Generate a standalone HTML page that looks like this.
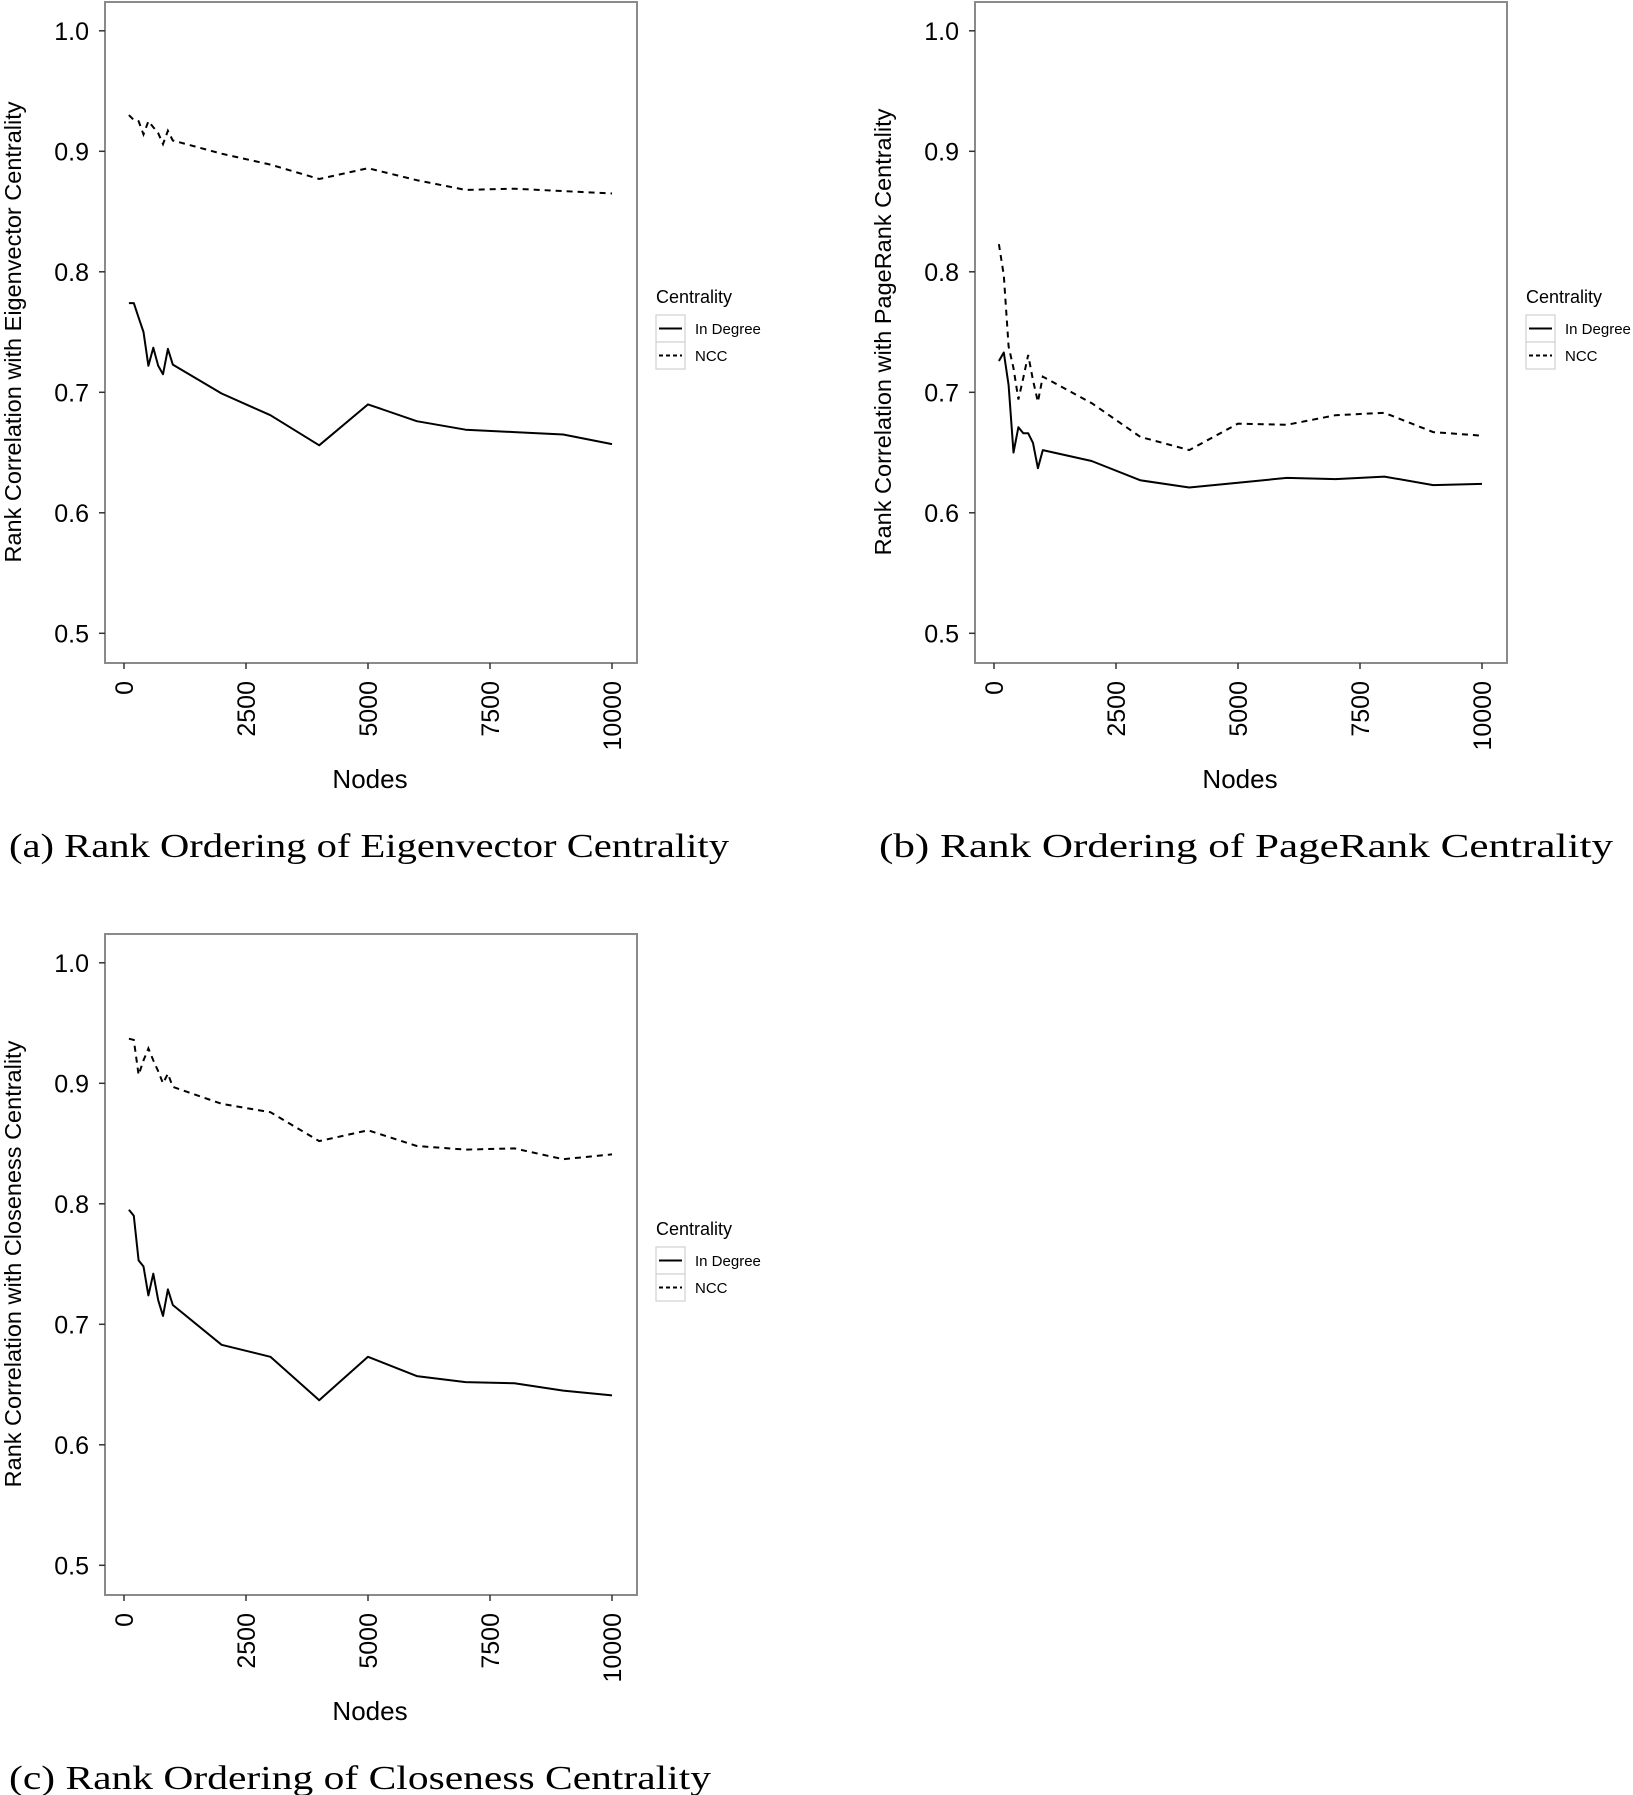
<!DOCTYPE html>
<html><head><meta charset="utf-8"><style>
html,body{margin:0;padding:0;background:#fff;}
svg{display:block;}
text{font-family:"Liberation Sans",sans-serif;fill:#000;}
.cap{font-family:"Liberation Serif",serif;}
</style></head><body>
<svg id="fig" width="1633" height="1795" viewBox="0 0 1633 1795" xmlns="http://www.w3.org/2000/svg"></svg>
<script>
const nodes = [100,200,300,400,500,600,700,800,900,1000,2000,3000,4000,5000,6000,7000,8000,9000,10000];
const xTicks = [0,2500,5000,7500,10000];
const yTicks = [0.5,0.6,0.7,0.8,0.9,1.0];
const yTickLabels = ["0.5","0.6","0.7","0.8","0.9","1.0"];
const eigInDegree = [0.774,0.774,0.762,0.750,0.722,0.737,0.722,0.715,0.736,0.723,0.699,0.681,0.656,0.690,0.676,0.669,0.667,0.665,0.657];
const eigNCC = [0.930,0.926,0.925,0.914,0.925,0.920,0.915,0.906,0.917,0.909,0.898,0.889,0.877,0.886,0.876,0.868,0.869,0.867,0.865];
const prInDegree = [0.726,0.733,0.706,0.650,0.671,0.666,0.666,0.658,0.637,0.652,0.643,0.627,0.621,0.625,0.629,0.628,0.630,0.623,0.624];
const prNCC = [0.823,0.797,0.738,0.720,0.694,0.712,0.731,0.710,0.692,0.713,0.691,0.663,0.652,0.674,0.673,0.681,0.683,0.667,0.664];
const clInDegree = [0.795,0.790,0.753,0.748,0.724,0.742,0.720,0.707,0.729,0.716,0.683,0.673,0.637,0.673,0.657,0.652,0.651,0.645,0.641];
const clNCC = [0.937,0.936,0.907,0.919,0.929,0.919,0.910,0.900,0.908,0.897,0.883,0.876,0.852,0.861,0.848,0.845,0.846,0.837,0.841];

const NS="http://www.w3.org/2000/svg";
const svg=document.getElementById('fig');
function mk(tag,attrs,parent,txt){const e=document.createElementNS(NS,tag);for(const k in attrs)e.setAttribute(k,attrs[k]);if(txt!==undefined)e.textContent=txt;(parent||svg).appendChild(e);return e;}

function panel(ox,oy,key,yTitle,caption,capWidth,inDeg,ncc){
  const g=mk('g',{transform:`translate(${ox},${oy})`});
  
  
  const xs=v=>124+v*0.0488;
  const ys=v=>633.3-(v-0.5)*1205;
  const box=mk('rect',{x:105,y:2,width:532,height:661,fill:'none',stroke:'#8a8a8a','stroke-width':2},g);
  
  
  yTicks.forEach((t,i)=>{
    const tk=mk('line',{x1:99,x2:105,y1:ys(t),y2:ys(t),stroke:'#333','stroke-width':1.5},g);
    
    
    const tl=mk('text',{x:89,y:ys(t)+9,'text-anchor':'end','font-size':25},g,yTickLabels[i]);
    
    
  });
  xTicks.forEach(t=>{
    const tk=mk('line',{x1:xs(t),x2:xs(t),y1:663,y2:669,stroke:'#333','stroke-width':1.5},g);
    
    
    const tl=mk('text',{x:0,y:0,'text-anchor':'end','font-size':25,transform:`translate(${xs(t)+9},681) rotate(-90)`},g,String(t));
    
    
  });
  const xt=mk('text',{x:370,y:788,'text-anchor':'middle','font-size':26},g,'Nodes');
  
  
  const yt=mk('text',{x:0,y:0,'text-anchor':'middle','font-size':23.5,transform:`translate(21,332) rotate(-90)`},g,yTitle);
  
  
  const pts=a=>a.map((v,i)=>xs(nodes[i]).toFixed(1)+','+ys(v).toFixed(1)).join(' ');
  const l1=mk('polyline',{points:pts(inDeg),fill:'none',stroke:'#000','stroke-width':2,'stroke-linejoin':'round'},g);
  
  
  const l2=mk('polyline',{points:pts(ncc),fill:'none',stroke:'#000','stroke-width':2,'stroke-dasharray':'6,5'},g);
  
  
  const lg=mk('g',{},g);
  
  
  const lt=mk('text',{x:656,y:303,'font-size':18},lg,'Centrality');
  
  
  [['In Degree',null],['NCC','6,5']].forEach((e,i)=>{
    const y0=315+i*27;
    mk('rect',{x:656,y:y0,width:29,height:27,fill:'#fff',stroke:'#d0d0d0','stroke-width':1.2},lg);
    const ln=mk('line',{x1:659,x2:682,y1:y0+13.5,y2:y0+13.5,stroke:'#000','stroke-width':2},lg);
    if(e[1])ln.setAttribute('stroke-dasharray','4,3');
    const tx=mk('text',{x:695,y:y0+19,'font-size':15},lg,e[0]);
    
    
  });
  const c=mk('text',{x:9,y:857,'font-size':34,class:'cap',textLength:capWidth,lengthAdjust:'spacingAndGlyphs'},g,caption);
  
  
}
panel(0,0,'a','Rank Correlation with Eigenvector Centrality','(a) Rank Ordering of Eigenvector Centrality',720,eigInDegree,eigNCC);
panel(870,0,'b','Rank Correlation with PageRank Centrality','(b) Rank Ordering of PageRank Centrality',734,prInDegree,prNCC);
panel(0,932,'c','Rank Correlation with Closeness Centrality','(c) Rank Ordering of Closeness Centrality',702,clInDegree,clNCC);
</script>
</body></html>
